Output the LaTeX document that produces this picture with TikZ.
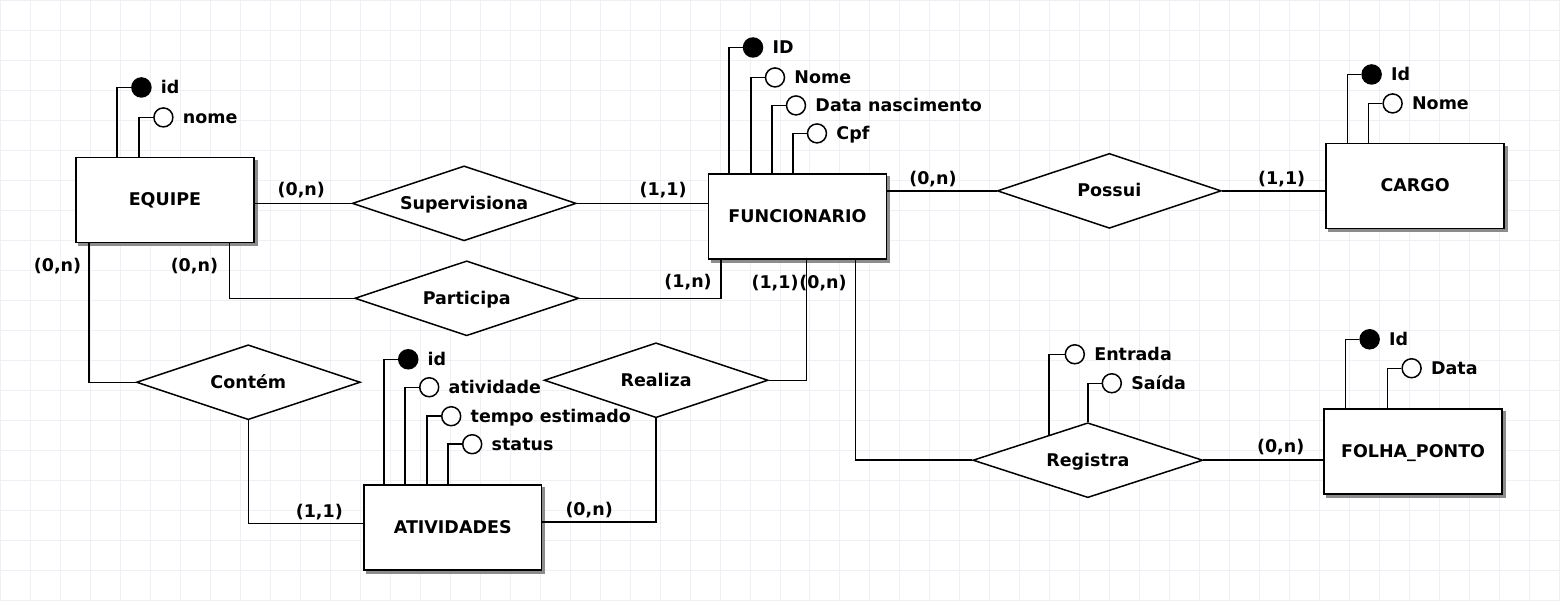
\documentclass[tikz,border=0pt]{standalone}
\usepackage{fontspec}
\setmainfont{DejaVu Sans}
\usetikzlibrary{positioning, shapes.geometric, calc}

\definecolor{gridblue}{RGB}{236,241,247}

\begin{document}
\begin{tikzpicture}[x=1pt, y=-1pt, line width=1.5pt,
  txt/.style={font=\fontsize{17.5}{21}\selectfont\bfseries, text height=16.3pt, text depth=4.2pt},
  entity/.style={txt, draw, fill=white, inner sep=0pt, minimum width=178pt, minimum height=85pt,
    preaction={draw=black!45, fill=black!45, transform canvas={xshift=3pt, yshift=-3pt}}},
  relation/.style={txt, diamond, draw, fill=white, shape aspect=3, inner sep=0pt, minimum width=224pt, minimum height=75pt},
  attr/.style={circle, draw, fill=white, minimum size=19pt, inner sep=0pt},
  keyattr/.style={attr, fill=black},
  attrtxt/.style={txt, inner sep=0pt, node distance=8.5pt},
  card/.style={txt, inner sep=0pt}]

\fill[white] (0,0) rectangle (1560,600);
\draw[gridblue, line width=1pt, step=30pt] (0,0) grid (1560,600);
\useasboundingbox (0,0) rectangle (1560,600);

% entidades
\node[entity] (equipe) at (164.5,199.5) {EQUIPE};
\node[entity] (funcionario) at (797.5,216) {FUNCIONARIO};
\node[entity] (cargo) at (1415.5,185.5) {CARGO};
\node[entity] (atividades) at (452.5,527.5) {ATIVIDADES};
\node[entity] (folha) at (1413.5,451.5) {FOLHA\_PONTO};

% relacionamentos
\node[relation] (supervisiona) at (464,203) {Supervisiona};
\node[relation] (participa) at (466.5,298) {Participa};
\node[relation] (contem) at (248,382) {Contém};
\node[relation] (realiza) at (656,380) {Realiza};
\node[relation] (possui) at (1109.5,190.5) {Possui};
\node[relation, minimum width=230pt] (registra) at (1088,460) {Registra};

\draw (equipe.east |- supervisiona.west) -- (supervisiona.west);
\draw (supervisiona.east) -- (supervisiona.east -| funcionario.west);
\draw ([xshift=-25pt]equipe.south east) |- (participa.west);
\draw (participa.east) -| ([xshift=13pt]funcionario.south west);
\draw ([xshift=14pt]equipe.south west) |- (contem.west);
\draw (contem.south) |- ([yshift=4pt]atividades.west);
\draw ([yshift=5.5pt]atividades.east) -| (realiza.south);
\draw (realiza.east) -| ([xshift=99pt]funcionario.south west);
\draw ([xshift=148pt]funcionario.south west) |- (registra.west);
\draw (registra.east) -- (registra.east -| folha.west);
\draw (funcionario.east |- possui.west) -- (possui.west);
\draw (possui.east) -- (possui.east -| cargo.west);

% cardinalidades
\node[card] (eq-sup) at (301,189) {(0,n)};
\node[card] (sup-func) at (663,189) {(1,1)};
\node[card] (eq-part) at (194,265) {(0,n)};
\node[card] (part-func) at (688,281) {(1,n)};
\node[card] (eq-cont) at (57,265) {(0,n)};
\node[card] (cont-ativ) at (319,511) {(1,1)};
\node[card] (ativ-real) at (589,509) {(0,n)};
\node[card] (real-func) at (775,282) {(1,1)};
\node[card] (func-reg) at (823,282) {(0,n)};
\node[card] (reg-folha) at (1281,446) {(0,n)};
\node[card] (func-pos) at (933,178) {(0,n)};
\node[card] (pos-cargo) at (1282,178) {(1,1)};

% atributos EQUIPE
\node[keyattr] (equipe-id) at (141,87) {};
\node[attr] (equipe-nome) at (163,117) {};
\node[attrtxt, right=of equipe-id] (equipe-id-txt) {id};
\node[attrtxt, right=of equipe-nome] (equipe-nome-txt) {nome};
\draw (equipe-id.west) -| ($(equipe-id.west |- equipe.north)+(-14,0)$);
\draw (equipe-nome.west) -| ($(equipe-nome.west |- equipe.north)+(-14,0)$);

% atributos FUNCIONARIO
\node[keyattr] (func-id) at (753,47) {};
\node[attr] (func-nome) at (775,77) {};
\node[attr] (func-data) at (796,105) {};
\node[attr] (func-cpf) at (817,133) {};
\node[attrtxt, right=of func-id] (func-id-txt) {ID};
\node[attrtxt, right=of func-nome] (func-nome-txt) {Nome};
\node[attrtxt, right=of func-data] (func-data-txt) {Data nascimento};
\node[attrtxt, right=of func-cpf] (func-cpf-txt) {Cpf};
\draw (func-id.west) -| ($(func-id.west |- funcionario.north)+(-14,0)$);
\draw (func-nome.west) -| ($(func-nome.west |- funcionario.north)+(-14,0)$);
\draw (func-data.west) -| ($(func-data.west |- funcionario.north)+(-14,0)$);
\draw (func-cpf.west) -| ($(func-cpf.west |- funcionario.north)+(-14,0)$);

% atributos CARGO
\node[keyattr] (cargo-id) at (1372,74) {};
\node[attr] (cargo-nome) at (1393,103) {};
\node[attrtxt, right=of cargo-id] (cargo-id-txt) {Id};
\node[attrtxt, right=of cargo-nome] (cargo-nome-txt) {Nome};
\draw (cargo-id.west) -| ($(cargo-id.west |- cargo.north)+(-14,0)$);
\draw (cargo-nome.west) -| ($(cargo-nome.west |- cargo.north)+(-14,0)$);

% atributos ATIVIDADES
\node[keyattr] (ativ-id) at (408,359) {};
\node[attr] (ativ-atividade) at (429,387) {};
\node[attr] (ativ-tempo) at (451,416) {};
\node[attr] (ativ-status) at (472,444) {};
\node[attrtxt, right=of ativ-id] (ativ-id-txt) {id};
\node[attrtxt, right=of ativ-atividade] (ativ-atividade-txt) {atividade};
\node[attrtxt, right=of ativ-tempo] (ativ-tempo-txt) {tempo estimado};
\node[attrtxt, right=of ativ-status] (ativ-status-txt) {status};
\draw (ativ-id.west) -| ($(ativ-id.west |- atividades.north)+(-14,0)$);
\draw (ativ-atividade.west) -| ($(ativ-atividade.west |- atividades.north)+(-14,0)$);
\draw (ativ-tempo.west) -| ($(ativ-tempo.west |- atividades.north)+(-14,0)$);
\draw (ativ-status.west) -| ($(ativ-status.west |- atividades.north)+(-14,0)$);

% atributos FOLHA_PONTO
\node[keyattr] (folha-id) at (1370,339) {};
\node[attr] (folha-data) at (1412,368) {};
\node[attrtxt, right=of folha-id] (folha-id-txt) {Id};
\node[attrtxt, right=of folha-data] (folha-data-txt) {Data};
\draw (folha-id.west) -| ($(folha-id.west |- folha.north)+(-14,0)$);
\draw (folha-data.west) -| ($(folha-data.west |- folha.north)+(-14,0)$);

% atributos Registra
\node[attr] (reg-entrada) at (1075,354) {};
\node[attr] (reg-saida) at (1112,383) {};
\node[attrtxt, right=of reg-entrada] (reg-entrada-txt) {Entrada};
\node[attrtxt, right=of reg-saida] (reg-saida-txt) {Saída};
\draw (reg-entrada.west) -| (registra.147);
\draw (reg-saida.west) -| (registra.north);
\end{tikzpicture}
\end{document}
